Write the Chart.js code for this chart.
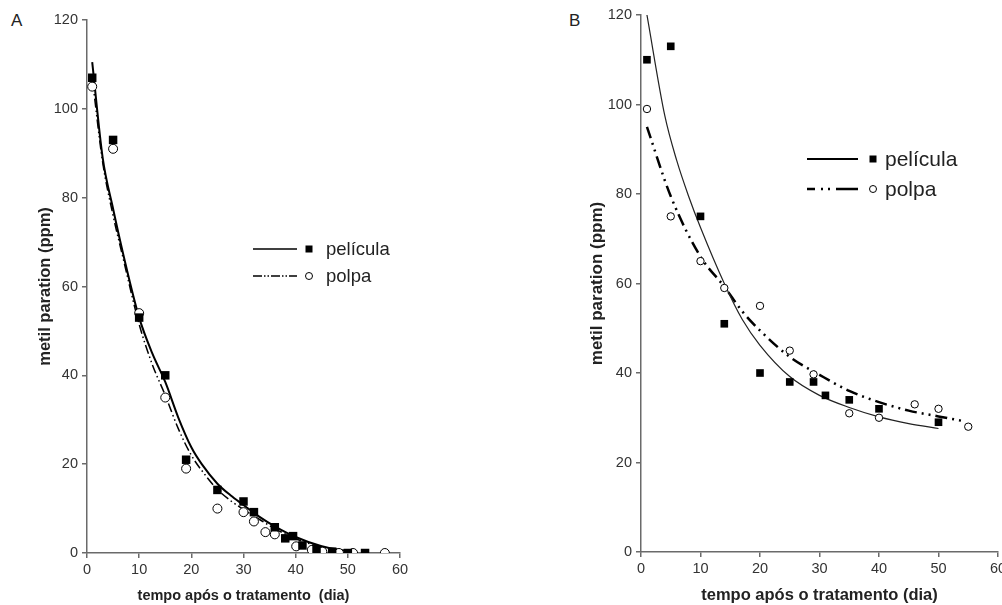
<!DOCTYPE html>
<html>
<head>
<meta charset="utf-8">
<script src="https://cdn.jsdelivr.net/npm/chart.js@4"></script>
<style>
  html, body { margin: 0; padding: 0; background: #fff; overflow: hidden; }
  body { width: 1002px; height: 605px; position: relative; font-family: "Liberation Sans", Arial, sans-serif; }
  .panel { position: absolute; top: 0; }
  .tag { position: absolute; font-size: 17px; color: #222; }
</style>
</head>
<body>
<div class="tag" style="left:11px; top:11px;">A</div>
<div class="tag" style="left:569px; top:11px;">B</div>
<div class="panel" style="left:0; width:440px; height:605px;"><canvas id="chartA"></canvas></div>
<div class="panel" style="left:560px; width:462px; height:605px;"><canvas id="chartB"></canvas></div>
<script>
// Painel A - pontos observados
const peliculaA_x = [1, 5, 10, 15, 19, 25, 30, 32, 36, 38, 39.5, 41.3, 44, 47, 50, 53.3];
const peliculaA_y = [107, 93, 53, 40, 21, 14.2, 11.6, 9.2, 5.8, 3.3, 3.8, 1.7, 0.8, 0.3, 0, 0];
const polpaA_x = [1, 5, 10, 15, 19, 25, 30, 32, 34.2, 36, 40.1, 43.1, 45.1, 48.3, 51, 57.1];
const polpaA_y = [105, 91, 54, 35, 19, 10, 9.2, 7.1, 4.7, 4.2, 1.5, 0.7, 0.3, 0, 0, 0];
// Painel A - curvas ajustadas
const curvaPeliculaA_x = [1, 3, 5, 7, 10, 12.5, 15, 17.5, 20, 22, 25, 27.5, 30, 33, 36, 40, 45, 50];
const curvaPeliculaA_y = [110.5, 89, 77.5, 67, 53, 45, 38.5, 30.5, 23.8, 20, 15.6, 13, 10.8, 8.2, 6, 3.6, 1.5, 0.4];
const curvaPolpaA_x = [1, 3, 5, 7, 10, 12.5, 15, 17.5, 20, 22.5, 25, 27.5, 30, 33, 36, 40, 45, 48];
const curvaPolpaA_y = [107, 88, 76, 66, 51.5, 42.5, 35.5, 28, 22, 17.8, 14.3, 11.8, 9.8, 7.6, 5.5, 3.2, 1.3, 0.5];

// Painel B - pontos observados
const peliculaB_x = [1, 5, 10, 14, 20, 25, 29, 31, 35, 40, 50];
const peliculaB_y = [110, 113, 75, 51, 40, 38, 38, 35, 34, 32, 29];
const polpaB_x = [1, 5, 10, 14, 20, 25, 29, 35, 40, 46, 50, 55];
const polpaB_y = [99, 75, 65, 59, 55, 45, 39.7, 31, 30, 33, 32, 28];
// Painel B - curvas ajustadas
const curvaPeliculaB_x = [1, 4, 6, 8, 10, 14, 17, 20, 25, 30, 35, 40, 45, 50];
const curvaPeliculaB_y = [120, 97.5, 87.5, 79.5, 72.5, 60, 52, 46.2, 39.2, 35, 32.3, 30.2, 28.7, 27.6];
const curvaPolpaB_x = [1, 5, 10, 14, 17, 20, 25, 30, 35, 40, 45, 50, 54];
const curvaPolpaB_y = [95, 79.5, 66, 59.3, 53.8, 49.5, 43.6, 39.6, 36, 33.5, 31.6, 30.3, 29.3];

const xTicks = [0, 10, 20, 30, 40, 50, 60];
const yTicks = [0, 20, 40, 60, 80, 100, 120];
const nomes = ["película", "polpa"];

function pts(xs, ys) {
  return xs.map((x, i) => ({ x: x, y: ys[i] }));
}

const FONT = "'Liberation Sans', Arial, sans-serif";

// legenda desenhada à mão: linha + marcador + texto
function legendPlugin(lg) {
  return {
    id: "legendaManual",
    afterDraw(chart) {
      const ctx = chart.ctx;
      ctx.save();
      lg.rows.forEach((row, i) => {
        ctx.strokeStyle = "#000";
        ctx.lineWidth = row.width;
        ctx.setLineDash(row.dash);
        ctx.beginPath();
        ctx.moveTo(lg.x1, row.y);
        ctx.lineTo(lg.x2, row.y);
        ctx.stroke();
        ctx.setLineDash([]);
        ctx.lineWidth = 1;
        if (i === 0) {
          ctx.fillStyle = "#000";
          ctx.fillRect(lg.mx - lg.sq / 2, row.y - lg.sq / 2, lg.sq, lg.sq);
        } else {
          ctx.fillStyle = "#fff";
          ctx.beginPath();
          ctx.arc(lg.mx, row.y, lg.r, 0, Math.PI * 2);
          ctx.fill();
          ctx.stroke();
        }
        ctx.fillStyle = "#222";
        ctx.font = lg.font + "px " + FONT;
        ctx.textBaseline = "middle";
        ctx.fillText(nomes[i], lg.tx, row.y + 1);
      });
      ctx.restore();
    }
  };
}

function makeChart(id, o) {
  return new Chart(document.getElementById(id), {
    type: "scatter",
    data: {
      datasets: [
        {
          data: pts(o.cpx, o.cpy), showLine: true, pointRadius: 0,
          borderColor: o.solidColor, borderWidth: o.solidWidth,
          cubicInterpolationMode: "monotone", order: 3
        },
        {
          data: pts(o.cqx, o.cqy), showLine: true, pointRadius: 0,
          borderColor: "#000", borderWidth: o.dashWidth, borderDash: o.dash,
          cubicInterpolationMode: "monotone", order: 4
        },
        {
          data: pts(o.qx, o.qy), pointStyle: "circle", pointRadius: o.r,
          backgroundColor: "#fff", borderColor: "#000", borderWidth: 1, order: 2
        },
        {
          data: pts(o.px, o.py), pointStyle: "rect", pointRadius: o.sqR,
          backgroundColor: "#000", borderColor: "#000", borderWidth: 0, order: 1
        }
      ]
    },
    options: {
      responsive: true,
      maintainAspectRatio: false,
      animation: false,
      layout: { padding: o.pad },
      plugins: { legend: { display: false }, tooltip: { enabled: false } },
      scales: {
        x: {
          type: "linear", min: 0, max: 60,
          afterFit: (s) => { s.height = o.xh; },
          afterBuildTicks: (s) => { s.ticks = xTicks.map((v) => ({ value: v })); },
          border: { display: true, color: "#6a6a6a", width: 1.5 },
          grid: { drawOnChartArea: false, drawTicks: true, tickLength: 5, color: "#6a6a6a", lineWidth: 1.5 },
          ticks: { color: "#333", font: { family: FONT, size: o.tickSize }, padding: 3, maxRotation: 0 },
          title: {
            display: true, text: o.xTitle, color: "#222",
            font: { family: FONT, size: o.xTitleSize, weight: "bold" },
            padding: { top: 0, bottom: 0 }
          }
        },
        y: {
          type: "linear", min: 0, max: 120,
          afterFit: (s) => { s.width = o.yw; },
          afterBuildTicks: (s) => { s.ticks = yTicks.map((v) => ({ value: v })); },
          border: { display: true, color: "#6a6a6a", width: 1.5 },
          grid: { drawOnChartArea: false, drawTicks: true, tickLength: 5, color: "#6a6a6a", lineWidth: 1.5 },
          ticks: { color: "#333", font: { family: FONT, size: o.tickSize }, padding: 4 },
          title: {
            display: true, text: "metil paration (ppm)", color: "#222",
            font: { family: FONT, size: o.yTitleSize, weight: "bold" },
            padding: { top: o.yTitlePad, bottom: 0 }
          }
        }
      }
    },
    plugins: [legendPlugin(o.legend)]
  });
}

makeChart("chartA", {
  px: peliculaA_x, py: peliculaA_y, qx: polpaA_x, qy: polpaA_y,
  cpx: curvaPeliculaA_x, cpy: curvaPeliculaA_y, cqx: curvaPolpaA_x, cqy: curvaPolpaA_y,
  solidColor: "#000", solidWidth: 2, dashWidth: 1.5, dash: [9, 3, 1.5, 3, 1.5, 3],
  r: 4.5, sqR: 6,
  pad: { left: 0, top: 20, right: 40, bottom: 0 }, xh: 52, yw: 87,
  tickSize: 14.5, xTitle: "tempo após o tratamento  (dia)", xTitleSize: 14.5,
  yTitleSize: 16.5, yTitlePad: 36,
  legend: {
    x1: 253, x2: 297, mx: 309, tx: 326, sq: 7, r: 3.5, font: 18.5,
    rows: [{ y: 249, width: 1.5, dash: [] }, { y: 276, width: 1.5, dash: [9, 2, 1.5, 2, 1.5, 2] }]
  }
});

makeChart("chartB", {
  px: peliculaB_x, py: peliculaB_y, qx: polpaB_x, qy: polpaB_y,
  cpx: curvaPeliculaB_x, cpy: curvaPeliculaB_y, cqx: curvaPolpaB_x, cqy: curvaPolpaB_y,
  solidColor: "#222", solidWidth: 1.2, dashWidth: 2.5, dash: [12, 5, 2, 5, 2, 5],
  r: 3.7, sqR: 5.4,
  pad: { left: 0, top: 15, right: 24, bottom: 0 }, xh: 53, yw: 81,
  tickSize: 14.5, xTitle: "tempo após o tratamento (dia)", xTitleSize: 16.5,
  yTitleSize: 17, yTitlePad: 27,
  legend: {
    x1: 247, x2: 298, mx: 313, tx: 325, sq: 7, r: 3.5, font: 21,
    rows: [{ y: 159, width: 2, dash: [] }, { y: 189, width: 2.5, dash: [8, 6, 2, 5, 2, 6, 17, 0] }]
  }
});
</script>
</body>
</html>
